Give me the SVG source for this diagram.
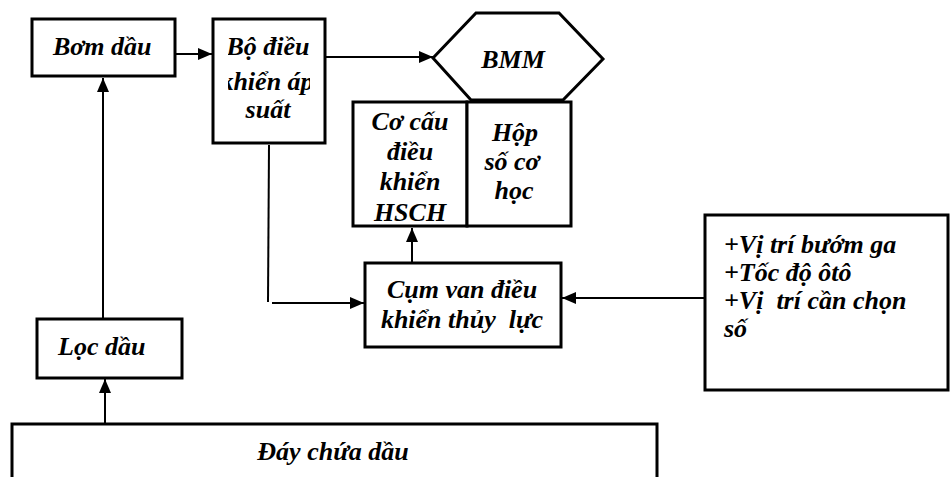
<svg xmlns="http://www.w3.org/2000/svg" width="951" height="477" viewBox="0 0 951 477">
<style>
.box{fill:#fff;stroke:#000;stroke-width:3}
.ln{fill:none;stroke:#000;stroke-width:2}
.t{font-family:"Liberation Serif","Times New Roman",serif;font-weight:bold;font-style:italic;font-size:26px;fill:#000;white-space:pre}
.c{text-anchor:middle}
</style>
<defs>
<marker id="ah" markerUnits="userSpaceOnUse" markerWidth="14" markerHeight="12" refX="14" refY="6" orient="auto">
<path d="M0,0 L14,6 L0,12 z" fill="#000"/>
</marker>
<clipPath id="clipBo"><rect x="228" y="20" width="82" height="122"/></clipPath>
</defs>
<rect width="951" height="477" fill="#fff"/>
<g id="connectors">
<line class="ln" x1="176" y1="54" x2="212" y2="54" marker-end="url(#ah)"/>
<line class="ln" x1="326" y1="57" x2="433" y2="57" marker-end="url(#ah)"/>
<line class="ln" x1="103" y1="318" x2="103" y2="78" marker-end="url(#ah)"/>
<line class="ln" x1="105" y1="423" x2="105" y2="379" marker-end="url(#ah)"/>
<line class="ln" x1="269" y1="145" x2="268" y2="302"/>
<line class="ln" x1="272" y1="303" x2="364" y2="303" marker-end="url(#ah)"/>
<line class="ln" x1="412" y1="262" x2="412" y2="228" marker-end="url(#ah)"/>
<line class="ln" x1="704" y1="298" x2="562" y2="298" marker-end="url(#ah)"/>
</g>
<g id="bom-dau">
<rect class="box" x="32" y="19" width="143" height="57"/>
<text class="t" x="53" y="55">Bơm dầu</text>
</g>
<g id="bo-dieu-khien">
<rect class="box" x="213" y="19" width="112" height="124"/>
<g clip-path="url(#clipBo)">
<text class="t c" x="268" y="55">Bộ điều</text>
<text class="t c" x="267" y="90">khiển áp</text>
<text class="t c" x="268" y="118">suất</text>
</g>
</g>
<g id="bmm">
<polygon class="box" points="476,13 559,13 603,59 563,100 471,100 433,58"/>
<text class="t c" x="513" y="68">BMM</text>
</g>
<g id="co-cau">
<rect class="box" x="353" y="102" width="114" height="124"/>
<text class="t c" x="410" y="130">Cơ cấu</text>
<text class="t c" x="410" y="160">điều</text>
<text class="t c" x="410" y="190">khiển</text>
<text class="t c" x="410" y="221">HSCH</text>
</g>
<g id="hop-so">
<rect class="box" x="467" y="102" width="104" height="124"/>
<text class="t c" x="515" y="141">Hộp</text>
<text class="t c" x="512" y="170">số cơ</text>
<text class="t c" x="514" y="199">học</text>
</g>
<g id="cum-van">
<rect class="box" x="365" y="263" width="196" height="84"/>
<text class="t c" x="462" y="298">Cụm van điều</text>
<text class="t c" x="462" y="328">khiển thủy  lực</text>
</g>
<g id="tin-hieu">
<rect class="box" x="705" y="215" width="243" height="175"/>
<text class="t" x="724" y="253">+Vị trí bướm ga</text>
<text class="t" x="724" y="281">+Tốc độ ôtô</text>
<text class="t" x="724" y="309">+Vị  trí cần chọn</text>
<text class="t" x="724" y="337">số</text>
</g>
<g id="loc-dau">
<rect class="box" x="37" y="319" width="145" height="59"/>
<text class="t" x="58" y="355">Lọc dầu</text>
</g>
<g id="day-chua-dau">
<path class="box" d="M12,480 L12,424 L657,424 L657,480"/>
<text class="t c" x="333" y="460">Đáy chứa dầu</text>
</g>
</svg>
